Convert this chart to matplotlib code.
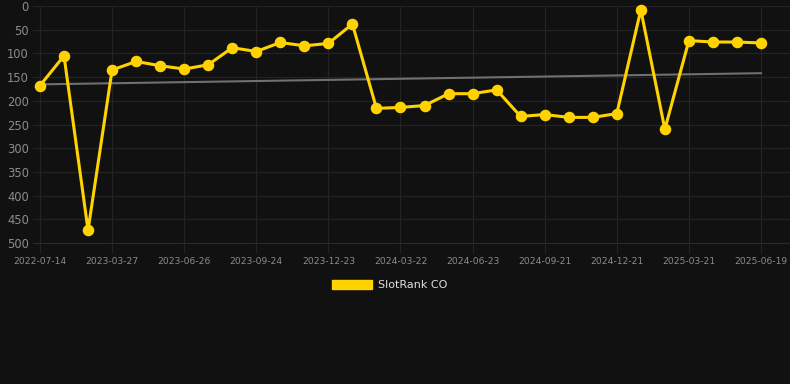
import numpy as np
import matplotlib.pyplot as plt
from matplotlib.patches import Patch

# rank history (lower is better), one entry per snapshot
dates = ['2022-07-14', '2022-10-10', '2023-01-05', '2023-03-27', '2023-04-26',
         '2023-05-27', '2023-06-26', '2023-07-26', '2023-08-25', '2023-09-24',
         '2023-10-24', '2023-11-23', '2023-12-23', '2024-01-22', '2024-02-21',
         '2024-03-22', '2024-04-22', '2024-05-23', '2024-06-23', '2024-07-23',
         '2024-08-22', '2024-09-21', '2024-10-21', '2024-11-21', '2024-12-21',
         '2025-01-20', '2025-02-19', '2025-03-21', '2025-04-20', '2025-05-20',
         '2025-06-19']
ranks = [168, 105, 473, 135, 117, 126, 133, 124, 88, 96, 77, 84, 79, 38, 216,
         214, 210, 185, 185, 177, 233, 229, 235, 235, 227, 8, 260, 73, 76, 76, 78]
series_name = 'SlotRank CO'
yticks = [0, 50, 100, 150, 200, 250, 300, 350, 400, 450, 500]

bg = '#111111'
gold = '#ffd200'
grid_c = '#242424'
text_c = '#8c8c8c'

W, H = 790, 384
fig = plt.figure(figsize=(W / 100, H / 100), dpi=100, facecolor=bg)
ax = fig.add_axes([33 / W, (H - 243) / H, (790 - 33) / W, (243 - 6) / H])
ax.set_facecolor(bg)

x = np.arange(len(ranks))

# linear trend over the series
coef = np.polyfit(x, ranks, 1)
ax.plot(x, np.polyval(coef, x), color='#707070', lw=1.5, zorder=2)

ax.plot(x, ranks, color=gold, lw=2.2, marker='o', ms=7.3,
        markerfacecolor=gold, markeredgecolor=gold, zorder=3, clip_on=False)

ax.set_xlim(-0.29, len(ranks) - 1 + 1.207)
ax.set_ylim(500, 0)
ax.set_yticks(yticks)
ax.set_xticks(x[::3])
ax.set_xticklabels(dates[::3])

ax.grid(True, color=grid_c, lw=0.8)
ax.set_axisbelow(True)
for s in ax.spines.values():
    s.set_visible(False)
ax.spines['bottom'].set_visible(True)
ax.spines['bottom'].set_color('#2a2a2a')

ax.tick_params(axis='x', colors=grid_c, length=7, width=0.8, labelcolor=text_c,
               labelsize=6.6, pad=3)
ax.tick_params(axis='y', length=0, labelcolor=text_c, labelsize=8.3, pad=3)

handle = Patch(facecolor=gold, edgecolor=gold)
leg = fig.legend([handle], [series_name], loc='center',
                 bbox_to_anchor=(390 / W, 1 - 285 / H), frameon=False,
                 fontsize=8, handlelength=3.6, handleheight=0.95,
                 handletextpad=0.55)
for t in leg.get_texts():
    t.set_color('#e0e0e0')

fig.savefig('out.png', dpi=100, facecolor=bg)
